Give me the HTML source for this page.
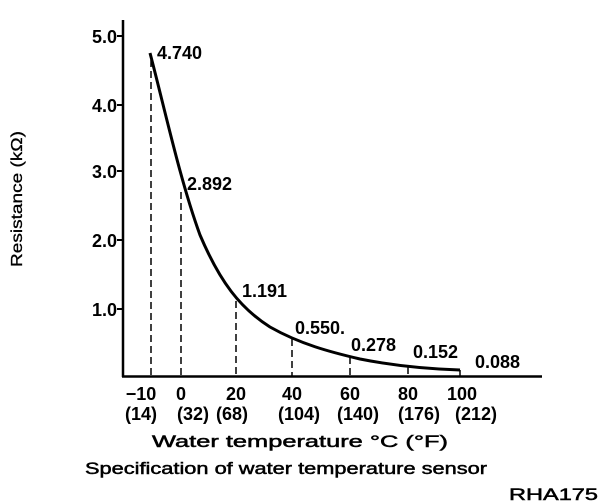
<!DOCTYPE html>
<html><head><style>body{margin:0;background:#fff}svg{display:block}text{font-family:"Liberation Sans",Arial,sans-serif;fill:#000}</style></head><body>
<svg width="608" height="504" viewBox="0 0 608 504">
<g stroke="#000" fill="none">
<line x1="123" y1="20" x2="123" y2="377" stroke-width="2.5"/>
<line x1="122" y1="376.5" x2="542" y2="376.5" stroke-width="2.5"/>
<g stroke-width="2"><line x1="117" y1="36" x2="123" y2="36"/><line x1="117" y1="105" x2="123" y2="105"/><line x1="117" y1="171" x2="123" y2="171"/><line x1="117" y1="240" x2="123" y2="240"/><line x1="117" y1="309" x2="123" y2="309"/></g>
<g stroke-width="1.5" stroke-dasharray="7,4">
<line x1="151" y1="60" x2="151" y2="376"/><line x1="181" y1="192" x2="181" y2="376"/><line x1="236" y1="301" x2="236" y2="376"/><line x1="292" y1="339" x2="292" y2="376"/><line x1="350" y1="357" x2="350" y2="376"/><line x1="408" y1="367" x2="408" y2="376"/><line x1="460" y1="370" x2="460" y2="376"/>
</g>
<path d="M150,53 C165,110 180,180 200,235 C220,282 240,308 270,327 C300,344 330,352 360,359 C395,366 430,369 460,370" stroke-width="3"/>
</g>
<g font-weight="bold" font-size="18">
<g text-anchor="end"><text x="117" y="43">5.0</text><text x="117" y="112">4.0</text><text x="117" y="178">3.0</text><text x="117" y="247">2.0</text><text x="117" y="316">1.0</text></g>
<text x="157" y="59">4.740</text><text x="187" y="190">2.892</text><text x="242" y="297">1.191</text><text x="295" y="334">0.550.</text><text x="351" y="351">0.278</text><text x="413" y="358">0.152</text><text x="475" y="368">0.088</text>
<g text-anchor="middle"><text x="141" y="400">−10</text><text x="181" y="400">0</text><text x="236" y="400">20</text><text x="292" y="400">40</text><text x="350" y="400">60</text><text x="408" y="400">80</text><text x="462" y="400">100</text>
<text x="141" y="420">(14)</text><text x="193" y="420">(32)</text><text x="232" y="420">(68)</text><text x="299" y="420">(104)</text><text x="358" y="420">(140)</text><text x="419" y="420">(176)</text><text x="476" y="420">(212)</text></g>
</g>
<g font-size="17" stroke="#000" stroke-width="0.5">
<text x="152" y="447" textLength="296" lengthAdjust="spacingAndGlyphs">Water temperature  °C (°F)</text>
<text x="85" y="474" textLength="402" lengthAdjust="spacingAndGlyphs">Specification of water temperature sensor</text>
<text x="509" y="500" textLength="89" lengthAdjust="spacingAndGlyphs">RHA175</text>
<text transform="translate(22,199) rotate(-90)" text-anchor="middle" font-size="16" stroke-width="0.3" textLength="136" lengthAdjust="spacingAndGlyphs">Resistance (kΩ)</text>
</g>
</svg>
</body></html>
